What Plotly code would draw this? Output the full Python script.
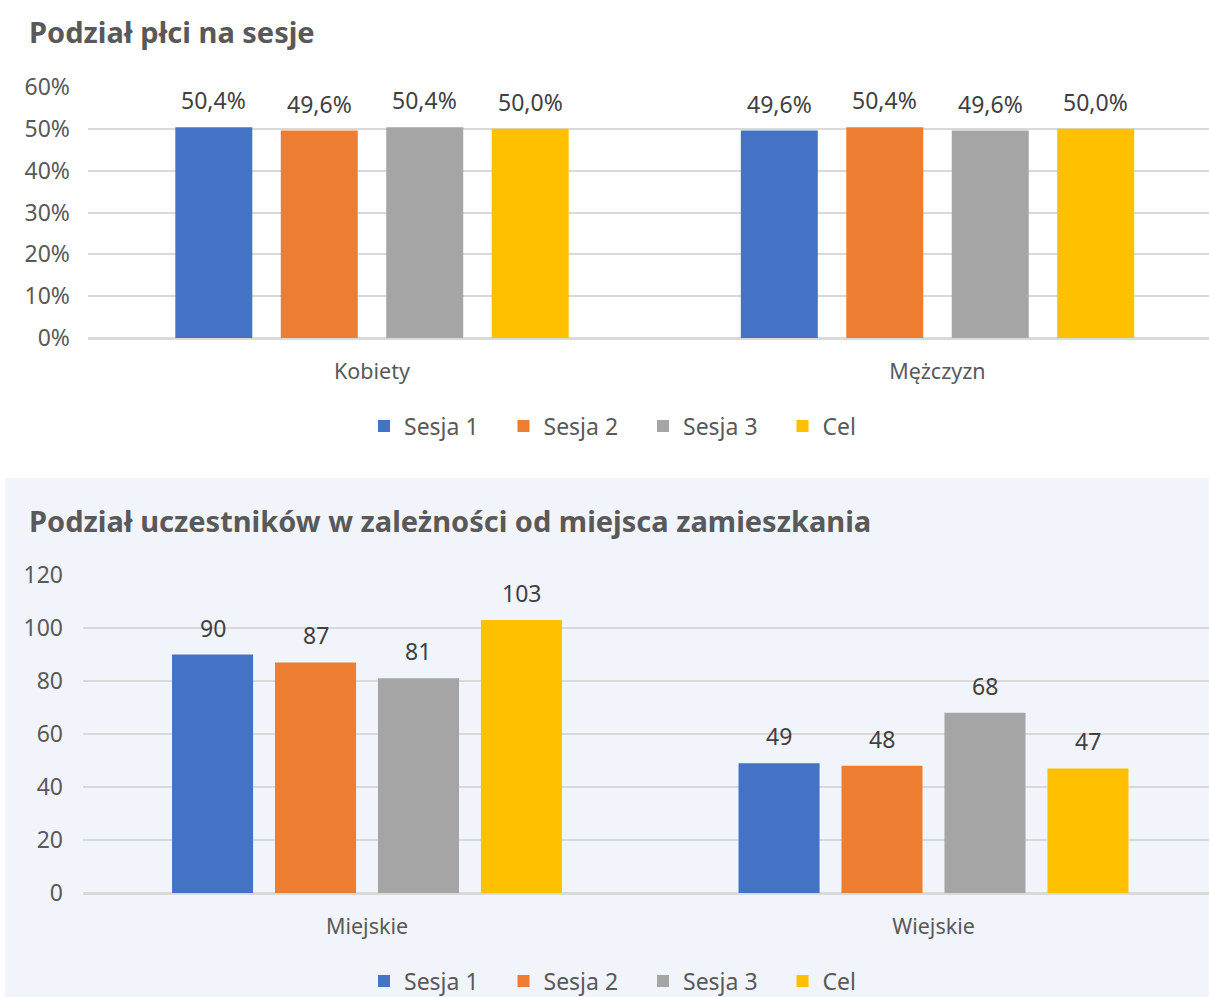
import plotly.graph_objects as go

# ---- data ----
series_names = ["Sesja 1", "Sesja 2", "Sesja 3", "Cel"]
series_colors = ["#4472C4", "#ED7D31", "#A5A5A5", "#FFC000"]

gender_categories = ["Kobiety", "Mężczyzn"]
gender_values = {
    "Sesja 1": [50.4, 49.6],
    "Sesja 2": [49.6, 50.4],
    "Sesja 3": [50.4, 49.6],
    "Cel": [50.0, 50.0],
}

place_categories = ["Miejskie", "Wiejskie"]
place_values = {
    "Sesja 1": [90, 49],
    "Sesja 2": [87, 48],
    "Sesja 3": [81, 68],
    "Cel": [103, 47],
}

title_top = "Podział płci na sesje"
title_bottom = "Podział uczestników w zależności od miejsca zamieszkania"

# ---- layout constants ----
W, H = 1209, 997
FONT = "Noto Sans"
TXT = "#595959"
LBL = "#404040"
GRID = "#D9D9D9"
PANEL = "#F1F4FB"

top_x = [88 / W, 1.0]
top_y = [1 - 338 / H, 1 - 87 / H]
bot_x = [83 / W, 1.0]
bot_y = [1 - 893 / H, 1 - 575 / H]
# category pixel widths (the plot is cut at the right edge)
cat_px_top, first_c_top = 565.5, 372
cat_px_bot, first_c_bot = 566.5, 367
gap_top, ggap_top = 0.254, 0.27
gap_bot, ggap_bot = 0.273, 0.213


def axis_range(dom, cat_px, first_c):
    x0 = dom[0] * W
    x1 = dom[1] * W
    lo = -(first_c - x0) / cat_px
    hi = lo + (x1 - x0) / cat_px
    return [lo, hi]


n = len(series_names)
fig = go.Figure()
annotations = []


def add_panel(cats, values, gap, ggap, xa, ya, legend, fmt):
    slot = (1 - gap) / n
    for i, name in enumerate(series_names):
        off = -(1 - gap) / 2 + i * slot + slot * ggap / 2
        fig.add_trace(go.Bar(
            x=cats, y=values[name], name=name,
            marker=dict(color=series_colors[i], line=dict(width=0)),
            xaxis=xa, yaxis=ya, legend=legend,
            width=slot * (1 - ggap), offset=off,
        ))
        center = -(1 - gap) / 2 + (i + 0.5) * slot
        for k, v in enumerate(values[name]):
            annotations.append(dict(
                x=k + center, y=v, xref=xa, yref=ya, text=fmt(v),
                showarrow=False, yshift=27, yanchor="middle",
                font=dict(family=FONT, size=23, color=LBL),
            ))


add_panel(gender_categories, gender_values, gap_top, ggap_top, "x", "y",
          "legend", lambda v: ("%.1f" % v).replace(".", ",") + "%")
add_panel(place_categories, place_values, gap_bot, ggap_bot, "x2", "y2",
          "legend2", lambda v: "%d" % v)

annotations.append(dict(x=27 / W, y=1 - 32 / H, xref="paper", yref="paper",
                        text="<b>" + title_top + "</b>", showarrow=False,
                        xanchor="left", yanchor="middle",
                        font=dict(family=FONT, size=29, color=TXT)))
annotations.append(dict(x=27 / W, y=1 - 520 / H, xref="paper", yref="paper",
                        text="<b>" + title_bottom + "</b>", showarrow=False,
                        xanchor="left", yanchor="middle",
                        font=dict(family=FONT, size=29, color=TXT)))

xfont = dict(family=FONT, size=21.5, color=TXT)
yfont = dict(family=FONT, size=23, color=TXT)
lfont = dict(family=FONT, size=23, color=TXT)

legend_common = dict(orientation="h", xanchor="left", yanchor="middle",
                     bgcolor="rgba(0,0,0,0)", font=lfont, itemwidth=30,
                     entrywidth=94.5, entrywidthmode="pixels",
                     itemclick=False, tracegroupgap=0)

fig.update_layout(
    width=W, height=H, autosize=False,
    margin=dict(l=0, r=0, t=0, b=0, pad=0, autoexpand=False),
    paper_bgcolor="white", plot_bgcolor="rgba(0,0,0,0)",
    barmode="overlay",
    font=dict(family=FONT, color=TXT),
    shapes=[dict(type="rect", xref="paper", yref="paper", x0=5 / W, x1=1,
                 y0=0, y1=1 - 478 / H, fillcolor=PANEL, line=dict(width=0),
                 layer="below")],
    annotations=annotations,
    xaxis=dict(domain=top_x, anchor="y", type="category", showgrid=False,
               range=axis_range(top_x, cat_px_top, first_c_top),
               ticks="", tickfont=xfont, ticklabelstandoff=18,
               showline=False),
    yaxis=dict(domain=top_y, anchor="x", range=[0, 60], dtick=10,
               ticksuffix="%", showgrid=True, gridcolor=GRID, gridwidth=1.5,
               zeroline=True, zerolinecolor=GRID, zerolinewidth=2.5,
               ticks="", tickfont=yfont, ticklabelstandoff=17),
    xaxis2=dict(domain=bot_x, anchor="y2", type="category", showgrid=False,
                range=axis_range(bot_x, cat_px_bot, first_c_bot),
                ticks="", tickfont=xfont, ticklabelstandoff=18,
                showline=False),
    yaxis2=dict(domain=bot_y, anchor="x2", range=[0, 120], dtick=20,
                showgrid=True, gridcolor=GRID, gridwidth=1.5,
                zeroline=True, zerolinecolor=GRID, zerolinewidth=2.5,
                ticks="", tickfont=yfont, ticklabelstandoff=19),
    legend=dict(legend_common, x=364 / W, y=1 - 426 / H),
    legend2=dict(legend_common, x=364 / W, y=1 - 981 / H),
)

fig.write_html("out.html")
